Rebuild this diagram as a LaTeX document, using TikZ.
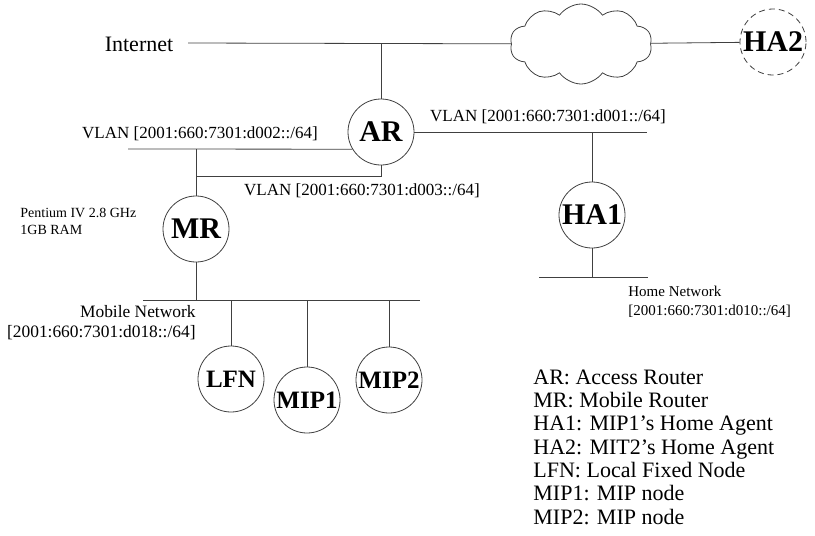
\documentclass[tikz,border=0pt]{standalone}
\usepackage{fontspec}
\setmainfont{Liberation Serif}
\usetikzlibrary{shapes.symbols}

\begin{document}
\begin{tikzpicture}[x=0.5pt,y=-0.5pt,
  host/.style={circle,draw=black!75,thin,minimum size=33pt,inner sep=0pt,font=\fontsize{15}{15}\selectfont\bfseries},
  leaf/.style={host,font=\fontsize{12.5}{12.5}\selectfont\bfseries},
  net/.style={inner sep=0pt,font=\fontsize{8.5}{10}\selectfont},
  wire/.style={draw=black!75,thin}]
\useasboundingbox (0,0) rectangle (815,536);
% hosts and routers
\node[host] (AR) at (381,132) {AR};
\node[host] (MR) at (196,229) {MR};
\node[host] (HA1) at (592,215) {HA1};
\node[host,densely dashed] (HA2) at (773,42) {HA2};
\node[leaf] (LFN) at (231,379) {LFN};
\node[leaf] (MIP1) at (307,400) {MIP1};
\node[leaf] (MIP2) at (389,380) {MIP2};
\node[cloud,draw=black!75,thin,cloud puffs=10,cloud puff arc=110,cloud ignores aspect,minimum width=71pt,minimum height=40pt,inner sep=0pt] (cloud) at (581,44) {};
% bus ends
\coordinate (inet) at (188,43);
\coordinate (d002w) at (128,149);
\coordinate (d003w) at (196,176);
\coordinate (d001e) at (647,132);
\coordinate (homew) at (539,277);
\coordinate (homee) at (648,277);
\coordinate (mobw) at (143,300);
\coordinate (mobe) at (420,300);
% labels
\node (inetlabel) at (139,44) {\fontsize{11}{11}\selectfont Internet};
\node[net] (vlan2) at (200,134) {VLAN [2001:660:7301:d002::/64]};
\node[net] (vlan1) at (548,117) {VLAN [2001:660:7301:d001::/64]};
\node[net] (vlan3) at (362,191) {VLAN [2001:660:7301:d003::/64]};
\node[inner sep=0pt,anchor=west,align=left,font=\fontsize{7}{8.5}\selectfont] (cpu) at (20,221) {Pentium IV 2.8 GHz\\1GB RAM};
\node[net,anchor=east,align=right,font=\fontsize{8.7}{10}\selectfont] (mobnet) at (196,323) {Mobile Network\\{}[2001:660:7301:d018::/64]};
\node[net,anchor=west,align=left,font=\fontsize{7.5}{9.5}\selectfont] (homenet) at (628,302) {Home Network\\{}[2001:660:7301:d010::/64]};
\node[inner sep=0pt,anchor=west,align=left,font=\fontsize{11}{11.65}\selectfont] (legend) at (533,447) {AR: Access Router\\MR: Mobile Router\\HA1: MIP1's Home Agent\\HA2: MIT2's Home Agent\\LFN: Local Fixed Node\\MIP1: MIP node\\MIP2: MIP node};
% links
\path[wire]
(inet) edge (cloud)
(cloud) edge (HA2)
(AR) edge (AR |- inet)
(d002w) edge (AR.211)
(MR) edge (MR |- d002w)
(AR) edge (d001e)
(HA1) edge (HA1 |- d001e)
(HA1) edge (HA1 |- homew)
(homew) edge (homee)
(mobw) edge (mobe)
(MR) edge (MR |- mobw)
(LFN) edge (LFN |- mobw)
(MIP1) edge (MIP1 |- mobw)
(MIP2) edge (MIP2 |- mobw);
\draw[wire] (AR) |- (d003w);
\end{tikzpicture}
\end{document}
